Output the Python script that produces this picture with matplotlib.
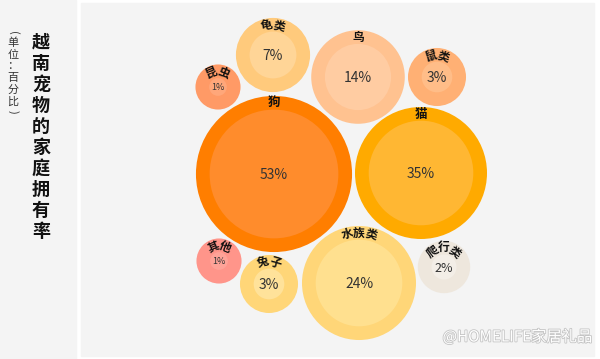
import numpy as np
import matplotlib
matplotlib.use("Agg")
import matplotlib.pyplot as plt
from matplotlib.patches import Circle, Rectangle
import matplotlib.patheffects as pe

plt.rcParams['font.family'] = ['Noto Sans CJK SC', 'DejaVu Sans']

# data: share of Vietnamese households owning each pet (%)
pets = ['狗', '猫', '水族类', '鸟', '龟类', '鼠类', '兔子', '爬行类', '昆虫', '其他']
share = [53, 35, 24, 14, 7, 3, 3, 2, 1, 1]

title = '越南宠物的家庭拥有率'
unit = '(单位：百分比)'
watermark = '@HOMELIFE家居礼品'

# layout: bubble centres on the canvas (px), packed by hand like the original
centres = [(274, 174), (421, 173), (359, 283), (358, 77), (273, 55),
           (437, 77), (269, 284), (444, 267), (218, 87), (219, 261)]
ring_colors = ['#ff7e00', '#ffaa00', '#ffd678', '#ffc290', '#ffca7c',
               '#ffb074', '#ffd678', '#eee7dd', '#ff9a66', '#ff958a']
core_colors = ['#ff8c2c', '#ffb733', '#ffe08f', '#ffcca2', '#ffd597',
               '#ffbd88', '#ffe29a', '#f3eee7', '#ffa77a', '#ffa398']
pct_sizes = [10, 10, 10, 10, 10, 10, 10, 9, 6.5, 6.5]
name_sizes = [9, 9, 8.5, 8.5, 8.5, 8.5, 8.5, 8.5, 8.5, 8.5]

RING = 13.7   # width of the outer ring (px)
SCALE = 8.84  # inner radius per sqrt(percent)

fig = plt.figure(figsize=(6.0, 3.59), dpi=100)
fig.patch.set_facecolor('white')
ax = fig.add_axes([0, 0, 1, 1])
ax.set_xlim(0, 600)
ax.set_ylim(359, 0)
ax.axis('off')

# panels
ax.add_patch(Rectangle((0, 0), 76, 359, color='#f4f4f4', zorder=0))
ax.add_patch(Rectangle((81, 3), 513, 353, color='#f4f4f4', zorder=0))


def arc_text(cx, cy, r, s, size):
    n = len(s)
    step = (size * 1.45) / r
    for i, ch in enumerate(s):
        th = np.pi / 2 + (n - 1) / 2 * step - i * step
        x = cx + r * np.cos(th)
        y = cy - r * np.sin(th)
        ax.text(x, y, ch, fontsize=size, fontweight='bold', color='#111111',
                rotation=np.degrees(th) - 90, rotation_mode='anchor',
                ha='center', va='center', zorder=5)


for name, v, (cx, cy), rc, cc, ps, ns in zip(pets, share, centres, ring_colors,
                                             core_colors, pct_sizes, name_sizes):
    r_in = SCALE * np.sqrt(v)
    r_out = r_in + RING
    ax.add_patch(Circle((cx, cy), r_out, facecolor=rc, edgecolor='none', zorder=2))
    ax.add_patch(Circle((cx, cy), r_in, facecolor=cc, edgecolor='none', zorder=3))
    ax.text(cx, cy + 1, '%d%%' % v, fontsize=ps, color='#333333',
            ha='center', va='center', zorder=5)
    arc_text(cx, cy, r_out - 7, name, ns)

# vertical title
for i, ch in enumerate(title):
    ax.text(41, 42 + i * 21.1, ch, fontsize=13, fontweight='bold', color='#111111',
            ha='center', va='center')

# vertical unit note
unit_y = [33, 43, 55, 66, 78, 90, 102, 112]
for ch, y in zip(unit, unit_y):
    rot = -90 if ch in '()' else 0
    ax.text(13, y, ch, fontsize=8, color='#333333', rotation=rot,
            ha='center', va='center')

# watermark
ax.text(592, 337, watermark, fontsize=11, color='white', ha='right', va='center',
        path_effects=[pe.withStroke(linewidth=1.2, foreground='#c4c4c4')], zorder=6)

fig.savefig('out.png', dpi=100, facecolor=fig.get_facecolor())
